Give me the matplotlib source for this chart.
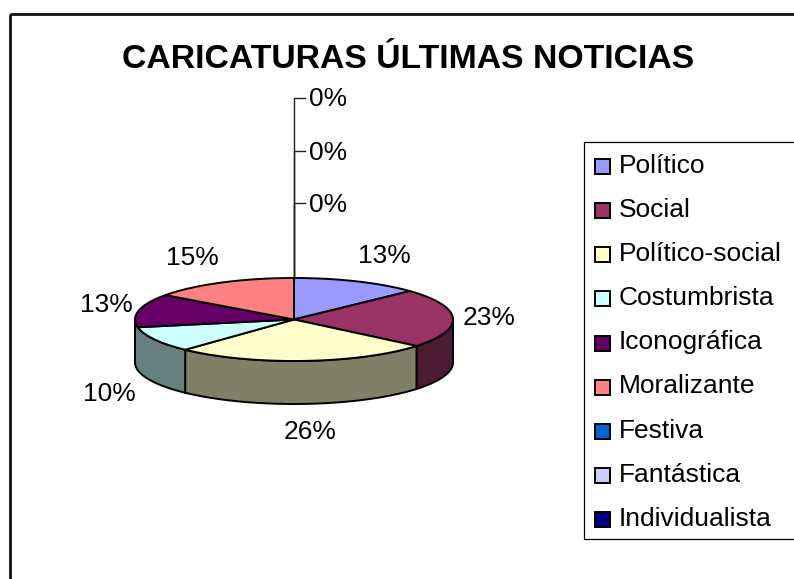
import matplotlib
matplotlib.use('Agg')
import matplotlib.pyplot as plt
import numpy as np
from matplotlib.patches import Polygon, Rectangle

plt.rcParams['font.family'] = ['Liberation Sans', 'DejaVu Sans']

title = 'CARICATURAS ÚLTIMAS NOTICIAS'
categories = ['Político', 'Social', 'Político-social', 'Costumbrista', 'Iconográfica',
              'Moralizante', 'Festiva', 'Fantástica', 'Individualista']
values = [13, 23, 26, 10, 13, 15, 0, 0, 0]
top_colors = ['#9999FF', '#993366', '#FFFFCC', '#CCFFFF', '#660066',
              '#FF8080', '#0066CC', '#CCCCFF', '#000080']
wall_colors = ['#666699', '#4D1A33', '#808066', '#668080', '#330033',
               '#804040', '#003366', '#666680', '#000040']

# pie geometry in picture pixels
cx, cy, rx, ry, depth = 294, 319.5, 159, 41.5, 43
# label offset from the rim point of each slice
label_dx = [27, 36, 6, -45, -32, -29]
label_dy = [-25, 0, 71, 55, -5, -25]
zero_label_y = [98, 151, 203]

fig = plt.figure(figsize=(7.94, 5.79), dpi=100)
ax = fig.add_axes([0, 0, 1, 1])
ax.set_xlim(0, 794)
ax.set_ylim(579, 0)
ax.axis('off')

# frame runs off the right and bottom of the picture
ax.add_patch(Rectangle((9.5, 13.5), 900, 700, fill=False, ec='#111111', lw=2, zorder=1))
ax.text(408.5, 68.5, title, fontsize=24.3, fontweight='bold', ha='center', va='baseline')


def rim(t1, t2):
    # angles in degrees, clockwise from the top of the pie
    t = np.radians(np.linspace(t1, t2, 60))
    return cx + rx * np.sin(t), cy - ry * np.cos(t)


edges = np.cumsum([0] + values) * 3.6

# side wall, only the part facing front
for i in range(len(values)):
    a, b = max(edges[i], 90), min(edges[i + 1], 270)
    if b <= a or b - a < 15:
        continue
    # a very thin next wall is not seen in the reference, this one runs on over it
    if 270 - b < 15:
        b = 270
    x, y = rim(a, b)
    pts = np.r_[np.c_[x, y], np.c_[x[::-1], y[::-1] + depth]]
    ax.add_patch(Polygon(pts, fc=wall_colors[i], ec='black', lw=1.4, zorder=2))

# top face
for i in range(len(values)):
    if values[i] == 0:
        continue
    x, y = rim(edges[i], edges[i + 1])
    pts = np.r_[[[cx, cy]], np.c_[x, y]]
    ax.add_patch(Polygon(pts, fc=top_colors[i], ec='black', lw=1.4, zorder=3))

# percent labels of the real slices
for i in range(6):
    mid = np.radians((edges[i] + edges[i + 1]) / 2)
    lx = cx + rx * np.sin(mid) + label_dx[i]
    ly = cy - ry * np.cos(mid) + label_dy[i]
    ax.text(lx, ly, '%d%%' % values[i], fontsize=19, ha='center', va='center', zorder=5)

# empty slices: leader lines up from the top of the pie
for i, yy in zip(range(6, 9), zero_label_y):
    ax.plot([cx, cx, cx + 11], [cy - ry, yy, yy], color='#222222', lw=1.0, zorder=2.5)
    ax.text(cx + 15, yy + 8.5, '%d%%' % values[i], fontsize=19, ha='left', va='baseline', zorder=5)

# legend
ax.add_patch(Rectangle((584, 142), 300, 397, fc='white', ec='black', lw=0.9, zorder=4))
for i, name in enumerate(categories):
    yy = 166.5 + i * 44.15
    ax.add_patch(Rectangle((595, yy - 7.5), 15, 15, fc=top_colors[i], ec='black', lw=1.4, zorder=5))
    ax.text(619, yy + 6.2, name, fontsize=19, ha='left', va='baseline', zorder=5)

fig.savefig('out.png', dpi=100)
